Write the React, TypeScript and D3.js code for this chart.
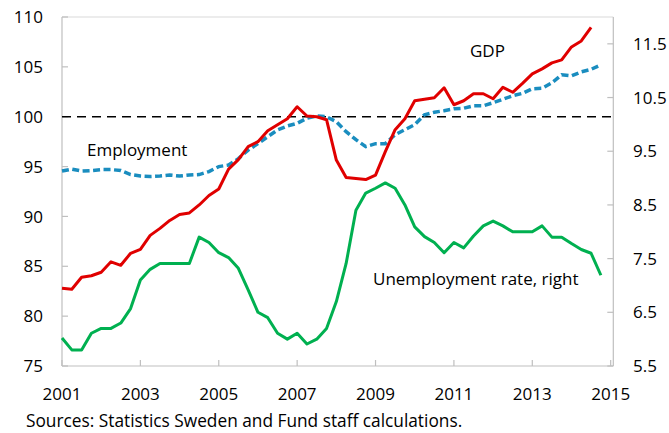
import React from "react";
import * as d3 from "d3";

// Quarterly data starting 2001Q1
const startYear = 2001;
const gdp = [
  82.8, 82.7, 83.9, 84.05, 84.4, 85.45, 85.1, 86.3, 86.7, 88.1, 88.8, 89.6, 90.2, 90.35,
  91.15, 92.1, 92.75, 94.75, 95.7, 97.0, 97.5, 98.6, 99.2, 99.8, 101.0, 100.07, 100.0, 99.7,
  95.65, 93.9, 93.8, 93.7, 94.15, 96.5, 98.7, 99.8, 101.6, 101.75, 101.9, 102.9, 101.2, 101.6,
  102.3, 102.3, 101.8, 102.95, 102.45, 103.35, 104.3, 104.8, 105.4, 105.7, 107.0, 107.6, 108.95,
];
const employment = [
  94.55, 94.75, 94.55, 94.6, 94.7, 94.7, 94.6, 94.2, 94.05, 94.0, 94.05, 94.15, 94.05, 94.15,
  94.2, 94.5, 95.0, 95.15, 95.8, 96.65, 97.3, 98.0, 98.67, 99.07, 99.34, 99.85, 100.07, 100.0,
  99.5, 98.5, 97.7, 97.0, 97.3, 97.3, 98.2, 98.7, 99.2, 100.2, 100.45, 100.6, 100.8, 100.85,
  101.1, 101.1, 101.4, 101.75, 102.1, 102.35, 102.8, 102.85, 103.4, 104.2, 104.1, 104.5, 104.75, 105.2,
];
const unemployment = [
  6.02, 5.8, 5.8, 6.11, 6.2, 6.2, 6.3, 6.57, 7.1, 7.3, 7.41, 7.41, 7.41, 7.41,
  7.9, 7.8, 7.61, 7.52, 7.32, 6.92, 6.5, 6.4, 6.11, 6.0, 6.11, 5.91, 6.0, 6.2,
  6.7, 7.41, 8.4, 8.72, 8.81, 8.91, 8.81, 8.5, 8.09, 7.91, 7.8, 7.61, 7.8, 7.7,
  7.92, 8.11, 8.2, 8.11, 8.0, 8.0, 8.0, 8.11, 7.9, 7.9, 7.78, 7.67, 7.6, 7.19,
];
const leftTicks = [75, 80, 85, 90, 95, 100, 105, 110];
const rightTicks = [5.5, 6.5, 7.5, 8.5, 9.5, 10.5, 11.5];
const yearTicks = [2001, 2003, 2005, 2007, 2009, 2011, 2013, 2015];
const referenceLevel = 100;

const W = 669;
const H = 433;
const left = 62;
const right = 613.3;
const top = 17;
const bottom = 366;
const FONT = "'Open Sans', sans-serif";

export default function App() {
  const x = d3.scaleLinear().domain([2001, 2015.067]).range([left, right]);
  const yL = d3.scaleLinear().domain([75, 110]).range([bottom, top]);
  const yR = d3.scaleLinear().domain([5.5, 12]).range([bottom, top]);
  const t = (i: number) => startYear + i / 4;

  const lineL = d3
    .line<number>()
    .x((_, i) => x(t(i)))
    .y((d) => yL(d));
  const lineR = d3
    .line<number>()
    .x((_, i) => x(t(i)))
    .y((d) => yR(d));

  const axisColor = "#bfbfbf";

  return (
    <svg
      width={W}
      height={H}
      style={{ position: "absolute", left: 0, top: 0, background: "#fff" }}
      fontFamily={FONT}
    >
      {/* frame */}
      <line x1={left} x2={right} y1={top} y2={top} stroke="#d9d9d9" strokeWidth={1.2} />
      <line x1={right} x2={right} y1={top} y2={bottom} stroke={axisColor} strokeWidth={1.2} />
      <line x1={left} x2={left} y1={top} y2={bottom} stroke={axisColor} strokeWidth={1.2} />
      <line x1={left} x2={right} y1={bottom} y2={bottom} stroke={axisColor} strokeWidth={1.2} />

      {/* left ticks */}
      {leftTicks.map((v) => (
        <g key={"l" + v}>
          <line x1={left} x2={left + 6} y1={yL(v)} y2={yL(v)} stroke={axisColor} strokeWidth={1.2} />
          <text x={43} y={yL(v)} dy="0.36em" textAnchor="end" fontSize={17} fill="#000">
            {v}
          </text>
        </g>
      ))}
      {/* right ticks */}
      {rightTicks.map((v) => (
        <g key={"r" + v}>
          <line x1={right - 6} x2={right} y1={yR(v)} y2={yR(v)} stroke={axisColor} strokeWidth={1.2} />
          <text x={633} y={yR(v)} dy="0.36em" textAnchor="start" fontSize={17} fill="#000">
            {v.toFixed(1)}
          </text>
        </g>
      ))}
      {/* x ticks */}
      {yearTicks.map((yr) => (
        <g key={"x" + yr}>
          <line x1={x(yr)} x2={x(yr)} y1={bottom} y2={bottom - 6} stroke={axisColor} strokeWidth={1.2} />
          <text x={x(yr)} y={400} textAnchor="middle" fontSize={17} fill="#000">
            {yr}
          </text>
        </g>
      ))}

      {/* reference line */}
      <line
        x1={left}
        x2={right}
        y1={yL(referenceLevel)}
        y2={yL(referenceLevel)}
        stroke="#000"
        strokeWidth={1.5}
        strokeDasharray="9,6"
      />

      {/* series */}
      <path d={lineR(unemployment) || ""} fill="none" stroke="#00b050" strokeWidth={3} strokeLinejoin="round" />
      <path
        d={lineL(employment) || ""}
        fill="none"
        stroke="#1a8dbf"
        strokeWidth={3.5}
        strokeDasharray="7,3.5"
      />
      <path d={lineL(gdp) || ""} fill="none" stroke="#e00000" strokeWidth={3} strokeLinejoin="round" />

      {/* labels */}
      <text x={470} y={57} fontSize={17} fill="#000">GDP</text>
      <text x={87} y={156} fontSize={17} fill="#000">Employment</text>
      <text x={373} y={285} fontSize={17} fill="#000">Unemployment rate, right</text>
      <text x={26} y={427} fontSize={17.3} fill="#000">Sources: Statistics Sweden and Fund staff calculations.</text>
    </svg>
  );
}
